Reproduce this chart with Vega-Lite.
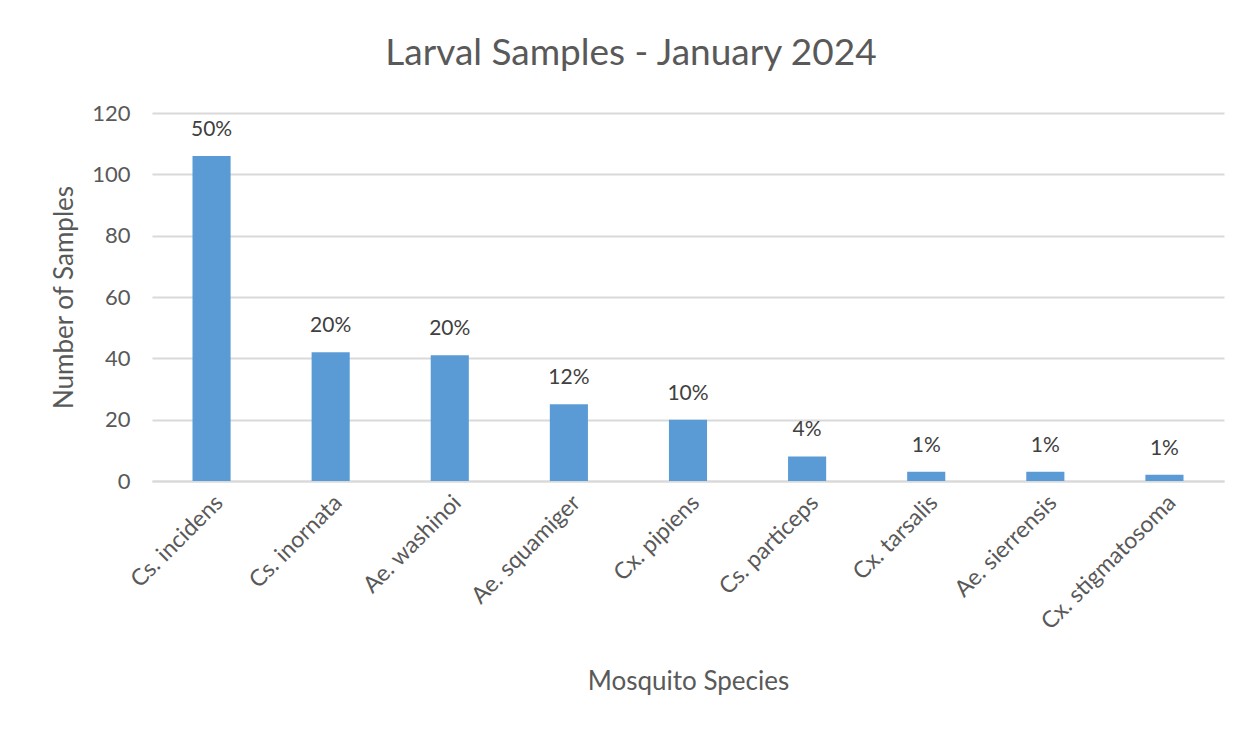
{
  "$schema": "https://vega.github.io/schema/vega-lite/v6.json",
  "width": 1072,
  "height": 368,
  "autosize": {"type": "none"},
  "padding": {"left": 152, "top": 113, "right": 24, "bottom": 249},
  "background": "white",
  "config": {
    "font": "Lato",
    "view": {"stroke": null},
    "axis": {"labelFont": "Lato", "titleFont": "Lato"}
  },
  "title": {
    "text": "Larval Samples - January 2024",
    "fontSize": 37,
    "fontWeight": "normal",
    "color": "#595959",
    "font": "Lato",
    "anchor": "middle",
    "dx": -57,
    "offset": 29
  },
  "data": {
    "values": [
      {"species": "Cs. incidens", "samples": 106, "pct": "50%"},
      {"species": "Cs. inornata", "samples": 42, "pct": "20%"},
      {"species": "Ae. washinoi", "samples": 41, "pct": "20%"},
      {"species": "Ae. squamiger", "samples": 25, "pct": "12%"},
      {"species": "Cx. pipiens", "samples": 20, "pct": "10%"},
      {"species": "Cs. particeps", "samples": 8, "pct": "4%"},
      {"species": "Cx. tarsalis", "samples": 3, "pct": "1%"},
      {"species": "Ae. sierrensis", "samples": 3, "pct": "1%"},
      {"species": "Cx. stigmatosoma", "samples": 2, "pct": "1%"}
    ]
  },
  "encoding": {
    "x": {
      "field": "species",
      "type": "nominal",
      "sort": null,
      "scale": {"paddingInner": 0.68, "paddingOuter": 0.34},
      "axis": {
        "title": "Mosquito Species",
        "titleFontSize": 26,
        "titleFontWeight": "normal",
        "titleColor": "#595959",
        "titleX": 536,
        "titleY": 200,
        "titleBaseline": "middle",
        "labelAngle": -45,
        "labelFontSize": 23,
        "labelColor": "#595959",
        "labelPadding": 10,
        "ticks": false,
        "domainColor": "#d9d9d9",
        "domainWidth": 2,
        "grid": false
      }
    },
    "y": {
      "field": "samples",
      "type": "quantitative",
      "scale": {"domain": [0, 120]},
      "axis": {
        "title": "Number of Samples",
        "titleFontSize": 26,
        "titleFontWeight": "normal",
        "titleColor": "#595959",
        "titleX": -88,
        "titleY": 184,
        "titleBaseline": "middle",
        "titleAngle": -90,
        "titleAlign": "center",
        "values": [0, 20, 40, 60, 80, 100, 120],
        "labelFontSize": 22,
        "labelColor": "#595959",
        "labelPadding": 22,
        "ticks": false,
        "domain": false,
        "gridColor": "#d9d9d9",
        "gridWidth": 2
      }
    }
  },
  "layer": [
    {"mark": {"type": "bar", "color": "#5b9bd5"}},
    {
      "mark": {"type": "text", "fontSize": 21, "color": "#404040", "baseline": "bottom", "dy": -16, "font": "Lato"},
      "encoding": {"text": {"field": "pct"}}
    }
  ]
}
